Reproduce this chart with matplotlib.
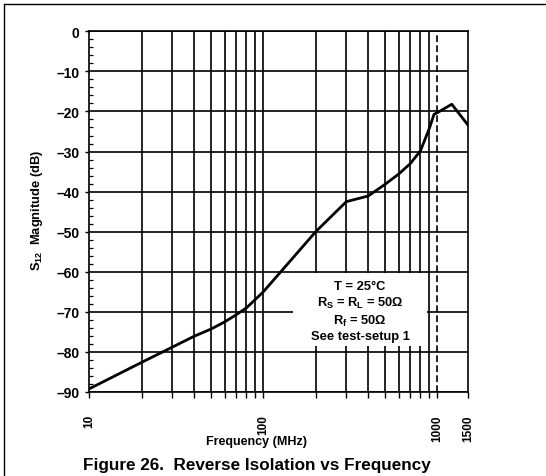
import numpy as np
import matplotlib
matplotlib.use("Agg")
import matplotlib.pyplot as plt
from matplotlib.lines import Line2D
from matplotlib.patches import Rectangle
from matplotlib.ticker import FixedLocator, NullFormatter, MultipleLocator

plt.rcParams['font.family'] = ['Liberation Sans', 'DejaVu Sans']
plt.rcParams['font.weight'] = 'bold'
plt.rcParams['mathtext.fontset'] = 'custom'
plt.rcParams['mathtext.rm'] = 'Liberation Sans:bold'
plt.rcParams['mathtext.it'] = 'Liberation Sans:bold'
plt.rcParams['mathtext.bf'] = 'Liberation Sans:bold'

# curve (MHz, dB)
freq = [10, 20, 30, 40, 50, 60, 70, 80, 90, 100,
        200, 300, 400, 500, 600, 700, 800, 900, 957, 1000, 1210, 1500]
s12 = [-89.2, -82.6, -78.8, -76.1, -74.3, -72.5, -70.7, -69.0, -66.9, -65.0,
       -50.0, -42.5, -41.1, -38.2, -35.6, -33.0, -29.8, -24.2, -20.7, -20.3, -18.2, -23.4]

major_x = [10, 100, 1000, 1500]
major_x_labels = ['10', '100', '1000', '1500']
minor_x = [20, 30, 40, 50, 60, 70, 80, 90, 200, 300, 400, 500, 600, 700, 800, 900]
y_ticks = list(range(-90, 1, 10))

notes = "T = 25°C\nR$_\\mathrm{S}$ = R$_\\mathrm{L}$ = 50Ω\nR$_\\mathrm{f}$ = 50Ω\nSee test-setup 1"

fig = plt.figure(figsize=(5.46, 4.77), dpi=100)
ax = fig.add_axes([89.3 / 546, 1 - 393 / 477, (468 - 89.3) / 546, (393 - 32.3) / 477])

ax.set_xscale('log')
ax.set_xlim(10, 1500)
ax.set_ylim(-90, 0)

# grid
for y in y_ticks:
    ax.axhline(y, color='black', lw=1.2, zorder=1)
for x in minor_x + [100]:
    ax.axvline(x, color='black', lw=1.2, zorder=1)
ax.axvline(1000, color='black', lw=1.2, ls=(0, (4, 2)), zorder=1)

# white box behind the notes
ax.add_patch(Rectangle((0.538, 0.128), 0.354, 0.202, transform=ax.transAxes,
                       facecolor='white', edgecolor='none', zorder=2))
ax.text(0.715, 0.2246, notes, transform=ax.transAxes, ha='center', va='center',
        fontsize=9.3, fontweight='bold', linespacing=1.25, zorder=3)

ax.plot(freq, s12, color='black', lw=2.0, zorder=4)

ax.xaxis.set_major_locator(FixedLocator(major_x))
ax.set_xticklabels(major_x_labels, rotation=90, fontsize=8.5, fontweight='bold')
ax.xaxis.set_minor_locator(FixedLocator(minor_x))
ax.xaxis.set_minor_formatter(NullFormatter())
ax.tick_params(axis='x', which='both', direction='out', length=4, width=1, pad=12)

ax.set_yticks(y_ticks)
ax.set_yticklabels([str(v).replace('-', '\u2013') for v in y_ticks], fontsize=10, fontweight='bold')
ax.yaxis.set_minor_locator(MultipleLocator(2))
ax.tick_params(axis='y', which='major', direction='out', length=3, width=1, pad=4)
ax.tick_params(axis='y', which='minor', direction='in', length=3, width=0.9)

for s in ax.spines.values():
    s.set_linewidth(1.2)

fig.text(37 / 546, 1 - 210 / 477, "S$_\\mathrm{12}$  Magnitude (dB)", rotation=90,
         ha='center', va='center', fontsize=9.3, fontweight='bold')
fig.text(256 / 546, 1 - 442 / 477, "Frequency (MHz)", ha='center', va='center',
         fontsize=9, fontweight='bold')
fig.text(257 / 546, 1 - 465.5 / 477, "Figure 26.  Reverse Isolation vs Frequency",
         ha='center', va='center', fontsize=12.3, fontweight='bold')

# page frame
fig.add_artist(Line2D([5 / 546, 1], [1 - 5 / 477, 1 - 5 / 477], color='black', lw=1.0,
                      transform=fig.transFigure))
fig.add_artist(Line2D([4 / 546, 4 / 546], [0, 1 - 5 / 477], color='black', lw=1.0,
                      transform=fig.transFigure))

fig.savefig('out.png', dpi=100)
